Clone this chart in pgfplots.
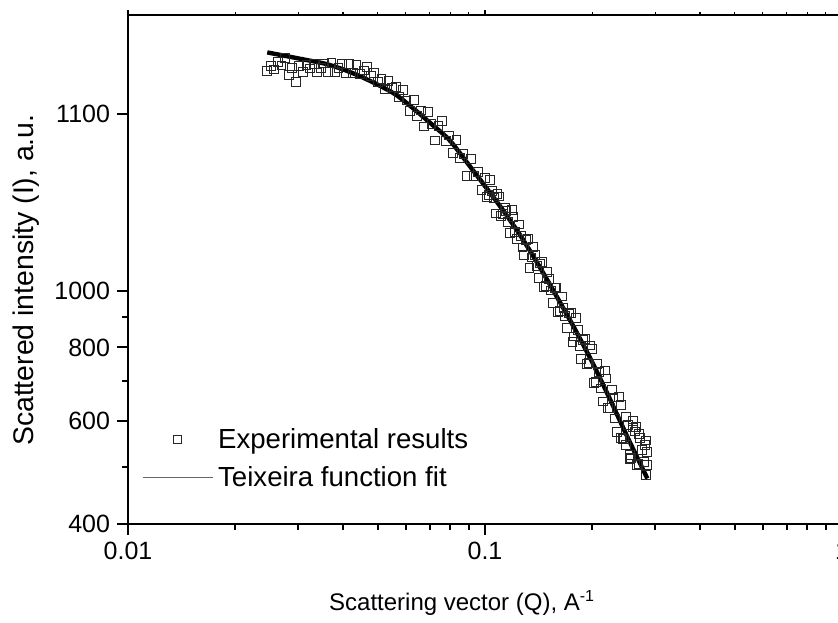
\documentclass[border=0pt]{standalone}
\usepackage{fontspec}
\setmainfont{Liberation Sans}
\usepackage{pgfplots}
\pgfplotsset{compat=1.18}
\pgfplotsset{
  midmark/.style={legend image code/.code={\draw[##1, mark repeat=2, mark phase=2] plot coordinates {(0pt,0pt) (17.5pt,0pt) (35pt,0pt)};}},
  longline/.style={legend image code/.code={\draw[##1] (0pt,0pt) -- (35pt,0pt);}},
}

\pgfplotstableread{
x y
0.02455 2369
0.02512 2413
0.02570 2381
0.02630 2450
0.02692 2419
0.02754 2488
0.02818 2331
0.02884 2399
0.02951 2268
0.03020 2411
0.03090 2355
0.03162 2423
0.03236 2391
0.03311 2433
0.03388 2354
0.03467 2396
0.03548 2438
0.03631 2355
0.03715 2441
0.03802 2359
0.03890 2396
0.03981 2434
0.04074 2349
0.04169 2430
0.04266 2346
0.04365 2425
0.04467 2342
0.04571 2373
0.04677 2403
0.04786 2318
0.04898 2348
0.05012 2265
0.05129 2293
0.05248 2209
0.05370 2280
0.05495 2219
0.05623 2223
0.05754 2135
0.05888 2196
0.06026 2109
0.06166 2024
0.06310 2111
0.06457 1984
0.06607 2028
0.06761 1904
0.06918 2013
0.07079 1923
0.07244 1803
0.07413 1909
0.07586 1948
0.07762 1799
0.07943 1838
0.08128 1716
0.08318 1804
0.08511 1685
0.08710 1712
0.08913 1568
0.09120 1678
0.09333 1567
0.09550 1592
0.09772 1484
0.1000 1558
0.1012 1443
0.1023 1455
0.1035 1542
0.1047 1478
0.1059 1440
0.1072 1353
0.1084 1461
0.1096 1447
0.1109 1339
0.1122 1349
0.1135 1382
0.1148 1368
0.1161 1309
0.1175 1252
0.1189 1373
0.1202 1336
0.1216 1257
0.1230 1223
0.1245 1296
0.1259 1239
0.1273 1184
0.1288 1150
0.1303 1219
0.1318 1225
0.1333 1092
0.1349 1139
0.1365 1185
0.1380 1151
0.1396 1100
0.1413 1049
0.1429 1112
0.1445 1117
0.1462 1014
0.1479 1019
0.1496 1077
0.1514 1046
0.1531 1000
0.1549 953
0.1567 1009
0.1585 1012
0.1603 919
0.1622 923
0.1641 977
0.1660 933
0.1679 906
0.1698 864
0.1718 914
0.1738 917
0.1758 816
0.1778 835
0.1799 897
0.1820 856
0.1841 804
0.1862 765
0.1884 824
0.1905 826
0.1928 749
0.1950 752
0.1972 806
0.1995 795
0.2018 695
0.2042 698
0.2065 750
0.2089 727
0.2113 681
0.2138 647
0.2163 731
0.2188 708
0.2213 630
0.2239 631
0.2265 677
0.2291 657
0.2317 605
0.2344 574
0.2371 659
0.2399 639
0.2400 560
0.2427 559
0.2455 559
0.2480 545
0.2483 609
0.2512 590
0.2541 516
0.2550 525
0.2570 518
0.2600 584
0.2600 600
0.2630 575
0.2650 585
0.2661 505
0.2692 506
0.2700 570
0.2723 560
0.2754 534
0.2786 510
0.2800 545
0.2818 485
0.2830 555
0.2840 505
0.2850 530
}\expdata

\pgfplotstableread{
x y
0.02455 2547
0.02512 2540
0.02818 2506
0.03162 2472
0.03548 2438
0.03981 2386
0.04467 2319
0.05012 2243
0.05623 2158
0.06310 2042
0.07079 1923
0.07943 1807
0.08913 1652
0.1000 1507
0.1122 1372
0.1259 1239
0.1413 1105
0.1585 979
0.1778 864
0.1995 756
0.2239 653
0.2512 561
0.2818 485
0.2844 480
}\fitdata

\begin{document}
\begin{tikzpicture}
\begin{axis}[
  scale only axis,
  width=357pt, height=254.5pt,
  xmode=log, ymode=log,
  xmin=0.01, xmax=1, ymin=400, ymax=2950,
  axis line style={line width=1pt},
  every tick/.style={black, line width=1pt},
  major tick length=5.5pt, minor tick length=3pt,
  tick align=outside,
  xtick pos=left, ytick pos=left,
  xtick={0.01,0.1,1}, xticklabels={0.01,0.1,1},
  minor xtick={0.02,0.03,0.04,0.05,0.06,0.07,0.08,0.09,0.2,0.3,0.4,0.5,0.6,0.7,0.8,0.9},
  ytick={400,600,800,1000,2000}, yticklabels={400,600,800,1000,1100},
  minor ytick={500,700,900},
  /pgf/number format/assume math mode=true,
  tick label style={font=\fontsize{12.5}{15}\selectfont},
  xlabel={Scattering vector (Q), A\textsuperscript{-1}},
  ylabel={Scattered intensity (I), a.u.},
  xlabel style={font=\fontsize{12}{14}\selectfont, at={(axis description cs:0.468,-0.169)}, anchor=base},
  ylabel style={font=\fontsize{14.2}{16}\selectfont, at={(axis description cs:-0.142,0.479)}, anchor=center},
  legend cell align=left,
  legend style={at={(axis description cs:0.019,0.199)}, anchor=north west,
    draw=none, fill=none, inner sep=0pt, row sep=2.5pt,
    nodes={inner sep=2.5pt},
    /tikz/every even column/.append style={column sep=5pt},
    font=\fontsize{13.8}{15}\selectfont},
]
\coordinate (sw) at (rel axis cs:0,0);
\addplot[only marks, mark=square, mark size=2.2pt,
  mark options={draw=black!85, line width=0.5pt, fill=none},
  midmark] table[x=x,y=y] {\expdata};
\addlegendentry{Experimental results}
\addplot[black, line width=2.2pt, smooth, forget plot] table[x=x,y=y] {\fitdata};
\addlegendimage{black!60, line width=0.6pt, longline}
\addlegendentry{Teixeira function fit}
\end{axis}
\begin{axis}[
  scale only axis,
  width=357pt, height=254.5pt,
  xmode=log, xmin=0.01, xmax=1, ymin=0, ymax=1,
  axis x line*=top, axis y line=none,
  axis line style={line width=1pt},
  every tick/.style={black, line width=0.6pt},
  tick align=outside,
  major tick length=2.5pt, minor tick length=1.5pt,
  xtick={0.01,0.1,1}, xticklabels={},
  minor xtick={0.02,0.03,0.04,0.05,0.06,0.07,0.08,0.09,0.2,0.3,0.4,0.5,0.6,0.7,0.8,0.9},
]
\end{axis}
\pgfresetboundingbox
\path[use as bounding box] (sw) ++(-64pt,-49pt) rectangle ++(419pt,311pt);
\end{tikzpicture}
\end{document}
